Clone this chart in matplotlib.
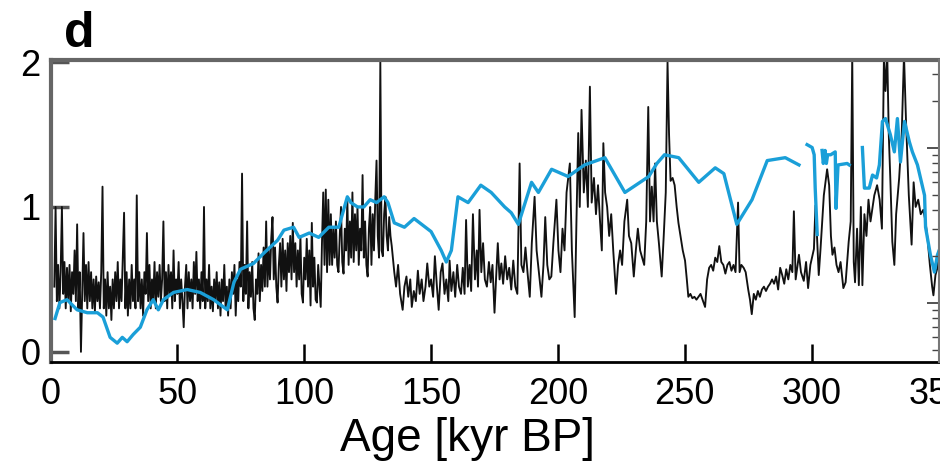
import numpy as np
import matplotlib
matplotlib.use("Agg")
import matplotlib.pyplot as plt

plt.rcParams['font.family'] = ['Liberation Sans', 'DejaVu Sans']

# black record, dense part: 0.5 kyr steps from 1.5 to 134.5 kyr
black_dense = [
    0.45, 1.0, 0.35, 0.6, 0.3, 0.55, 1.0, 0.4, 0.62, 0.3,          # 1.5 - 6.0
    0.58, 0.35, 0.6, 0.28, 0.55, 0.4, 0.7, 0.35, 0.88, 0.3,         # 6.5 - 11.0
    0.55, 0.0, 0.4, 0.82, 0.35, 0.6, 0.3, 0.62, 0.35, 0.55,         # 11.5 - 16.0
    0.3, 0.5, 0.28, 0.52, 0.35, 0.48, 0.3, 0.55, 1.14, 0.3,         # 16.5 - 21.0
    0.5, 0.25, 0.55, 0.3, 0.45, 0.22, 0.5, 0.3, 0.55, 0.35,         # 21.5 - 26.0
    0.62, 0.3, 0.5, 0.35, 0.65, 0.96, 0.3, 0.55, 0.25, 0.5,         # 26.5 - 31.0
    0.3, 0.6, 0.35, 0.5, 0.3, 1.08, 0.35, 0.55, 0.3, 0.5,           # 31.5 - 36.0
    0.25, 0.55, 0.4, 0.82, 0.35, 0.6, 0.3, 0.5, 0.35, 0.62,         # 36.5 - 41.0
    0.3, 0.55, 0.38, 0.6, 0.35, 0.5, 0.9, 0.35, 0.55, 0.3,          # 41.5 - 46.0
    0.6, 0.4, 0.55, 0.3, 0.7, 0.35, 0.5, 0.4, 0.62, 0.3,            # 46.5 - 51.0
    0.5, 0.35, 0.17, 0.45, 0.6, 0.3, 0.55, 0.35, 0.5, 0.3,          # 51.5 - 56.0
    0.62, 0.4, 0.69, 0.35, 0.5, 0.3, 0.55, 0.35, 1.0, 0.3,          # 56.5 - 61.0
    0.5, 0.35, 0.6, 0.3, 0.45, 0.28, 0.5, 0.35, 0.55, 0.3,          # 61.5 - 66.0
    0.48, 0.25, 0.5, 0.35, 0.6, 0.3, 0.45, 0.25, 0.5, 0.3,          # 66.5 - 71.0
    0.55, 0.4, 0.6, 0.25, 0.5, 0.35, 0.62, 0.45, 1.23, 0.35,        # 71.5 - 76.0
    0.6, 0.4, 0.9, 0.3, 0.55, 0.38, 0.62, 0.3, 0.22, 0.5,           # 76.5 - 81.0
    0.4, 0.68, 0.35, 0.6, 0.42, 0.72, 0.45, 0.9, 0.45, 0.7,         # 81.5 - 86.0
    0.5, 0.78, 0.93, 0.5, 0.72, 0.45, 0.34, 0.6, 0.75, 0.45,        # 86.5 - 91.0
    0.78, 0.5, 0.7, 0.42, 0.75, 0.55, 0.8, 0.5, 0.89, 0.55,         # 91.5 - 96.0
    0.75, 0.45, 0.7, 0.5, 0.8, 0.4, 0.34, 0.65, 0.5, 0.78,          # 96.5 - 101.0
    0.45, 0.7, 0.32, 0.89, 0.45, 0.65, 0.36, 0.34, 0.6, 0.45,       # 101.5 - 106.0
    0.31, 0.75, 1.1, 0.6, 1.12, 0.55, 1.05, 0.6, 0.95, 0.6,         # 106.5 - 111.0
    0.85, 0.65, 0.9, 0.6, 0.55, 0.8, 1.0, 0.62, 0.54, 0.85,         # 111.5 - 116.0
    0.7, 1.05, 0.6, 0.9, 0.65, 1.1, 0.62, 0.95, 0.7, 1.0,           # 116.5 - 121.0
    0.6, 0.85, 0.7, 1.22, 0.65, 0.9, 0.6, 0.52, 0.85, 1.0,          # 121.5 - 126.0
    0.6, 0.95, 0.7, 1.05, 1.32, 0.8, 0.65, 2.0, 0.7, 0.66,          # 126.5 - 131.0
    0.95, 1.07, 0.8, 0.7, 0.93, 0.8, 0.73,                          # 131.5 - 134.5
]
black_dense_start = 1.5

# black record, sparser part (age kyr, value)
black_age_late = [
    135.5, 136.2, 137.0, 137.8, 138.8, 139.5, 140.3, 141.0, 141.8, 142.4,
    143.2, 144.0, 144.8, 145.5, 146.3, 147.0, 147.8, 148.5, 149.3, 150.0,
    150.8, 151.5, 152.3, 153.0, 153.8, 154.5, 155.3, 156.0, 156.8, 157.3,
    158.0, 158.8, 159.5, 160.3, 161.0, 161.8, 162.5, 163.2, 163.8, 164.5,
    165.2, 165.8, 166.5, 167.3, 168.0, 168.5, 169.1, 169.8, 170.5, 171.2,
    172.0, 172.8, 173.5, 174.2, 175.0, 175.6, 176.3, 177.0, 177.7, 178.4,
    179.2, 180.0, 180.8, 181.6, 182.4, 183.2, 184.0, 184.9, 185.6, 186.4,
    187.2, 188.0, 188.9, 189.7, 190.8, 191.6, 192.5, 193.5, 194.3, 195.0,
    195.8, 196.6, 197.4, 198.2, 199.4, 200.2, 201.0, 201.8, 202.6, 203.4,
    204.7, 205.5, 206.6, 207.3, 208.0, 208.6, 209.3, 210.2, 211.0, 211.8,
    212.6, 213.3, 214.2, 215.0, 215.8, 216.6, 217.3, 217.9, 218.6, 219.4,
    220.2, 221.0, 221.8, 222.9, 223.7, 224.5, 225.3, 226.2, 227.3, 228.0,
    228.9, 229.9, 230.7, 231.5, 232.4, 233.2, 234.0, 234.8, 235.6, 236.3,
    237.0, 237.7, 238.3, 239.0, 239.8, 240.9, 241.7, 242.5, 243.2, 243.8,
    244.4, 245.2, 246.0, 246.8, 247.5, 248.3, 249.2, 250.1, 250.8, 251.4,
    252.2, 253.0, 253.8, 254.6, 255.4, 256.2, 257.0, 258.0, 258.8, 259.6,
    260.4, 261.2, 262.0, 262.8, 263.6, 264.4, 265.2, 266.0, 266.8, 267.6,
    268.4, 269.2, 270.0, 271.0, 271.6, 272.3, 273.2, 274.0, 275.0, 275.7,
    276.4, 277.2, 278.0, 278.8, 279.6, 280.4, 281.2, 282.0, 282.8, 283.6,
    284.4, 285.2, 286.0, 286.8, 287.6, 288.4, 289.2, 290.0, 290.8, 291.6,
    292.4, 293.0, 293.7, 294.3, 295.0, 295.8, 296.9, 297.8, 298.6, 299.5,
    300.9, 301.5, 302.1, 302.8, 303.5, 304.8, 306.1, 306.9, 307.6, 308.2,
    309.0, 309.8, 310.6, 311.4, 312.5, 313.4, 314.6, 315.4, 316.0, 316.6,
    317.1, 317.9, 318.6, 319.4, 320.0, 320.8, 321.6, 322.4, 323.2, 324.7,
    325.8, 326.8, 327.7, 328.5, 329.1, 329.8, 330.4, 331.0, 331.8, 332.6,
    333.3, 334.5, 335.5, 336.4, 337.2, 338.3, 339.4, 340.2, 341.0, 342.0,
    343.0, 344.0, 344.9, 345.8, 346.6, 347.5, 348.0, 348.8, 349.6, 350.4,
]
black_val_late = [
    0.55, 0.45, 0.6, 0.4, 0.29, 0.45, 0.52, 0.38, 0.5, 0.31,
    0.42, 0.35, 0.56, 0.4, 0.5, 0.35, 0.45, 0.61, 0.45, 0.5,
    0.38, 0.66, 0.45, 0.29, 0.55, 0.61, 0.4, 0.5, 0.35, 0.63,
    0.42, 0.55, 0.38, 0.6, 0.45, 0.4, 0.58, 0.4, 0.91, 0.45,
    0.6, 0.42, 0.95, 0.5, 0.7, 0.45, 0.98, 0.55, 0.75, 0.5,
    0.45, 0.62, 0.48, 0.6, 0.27, 0.5, 0.75, 0.5, 0.61, 0.47,
    0.66, 0.5, 0.58, 0.43, 0.63, 0.45, 0.4, 1.3, 0.6, 0.55,
    0.72, 0.55, 0.38, 0.75, 1.07, 0.7, 0.55, 0.38, 0.6, 0.93,
    0.6, 0.5, 0.52, 0.75, 1.05, 0.7, 0.55, 0.85, 0.7, 1.1,
    1.3, 0.7, 0.24, 0.9, 1.51, 1.0, 1.67, 1.1, 1.32, 1.0,
    1.83, 1.03, 1.2, 0.95, 1.15, 0.9, 0.7, 1.44, 1.1, 1.0,
    0.8, 0.95, 0.7, 0.4, 0.6, 0.7, 0.6, 0.9, 1.05, 0.8,
    0.75, 0.52, 0.7, 0.85, 0.7, 0.65, 0.6, 0.9, 1.69, 0.9,
    1.14, 0.9, 1.3, 0.9, 0.75, 0.52, 0.8, 1.1, 2.0, 1.5,
    1.18, 1.2, 1.15, 1.0, 0.89, 0.8, 0.7, 0.63, 0.5, 0.38,
    0.4, 0.37, 0.38, 0.36, 0.38, 0.4, 0.36, 0.31, 0.5, 0.58,
    0.6, 0.56, 0.65, 0.62, 0.73, 0.62, 0.6, 0.54, 0.6, 0.62,
    0.56, 0.6, 0.55, 1.03, 0.55, 0.6, 0.58, 0.55, 0.43, 0.36,
    0.26, 0.4, 0.36, 0.42, 0.38, 0.43, 0.45, 0.42, 0.45, 0.47,
    0.5, 0.47, 0.52, 0.43, 0.58, 0.53, 0.47, 0.57, 0.5, 0.6,
    0.55, 0.97, 0.5, 0.58, 0.67, 0.55, 0.49, 0.62, 0.44, 0.6,
    0.71, 1.01, 0.8, 0.53, 0.71, 1.08, 1.26, 1.15, 0.8, 0.67,
    0.72, 0.6, 0.55, 0.62, 0.44, 0.48, 0.76, 0.9, 2.05, 0.62,
    0.48, 0.85, 0.46, 1.0, 0.46, 0.95, 0.8, 1.05, 0.9, 1.08,
    1.15, 1.05, 0.85, 2.05, 1.8, 2.05, 1.5, 1.2, 0.76, 0.6,
    0.95, 1.2, 1.5, 2.05, 1.59, 1.08, 0.74, 1.17, 1.0, 1.05,
    0.95, 0.98, 0.9, 0.76, 0.6, 0.45, 0.39, 0.53, 0.58, 0.76,
]

# blue record (NaN = gap)
blue_age = [
    1.8, 3.7, 6.5, 10.5, 14.5, 18.5, 20.7, 23.5, 26.3, 28.3,
    30.2, 32.6, 35.4, 38.0, 40.5, 42.5, 44.5, 48.5, 53.9, 59.0,
    64.3, 69.7, 72.3, 74.9, 80.0, 84.0, 89.5, 92.0, 95.8, 98.0,
    102.0, 105.7, 109.7, 113.6, 117.0, 118.4, 121.0, 123.5, 126.0, 128.5,
    131.5, 133.0, 135.5, 139.5, 143.3, 150.0, 154.0, 156.0, 158.0, 160.6,
    164.6, 169.6, 173.7, 179.0, 181.6, 184.4, 189.6, 192.3, 197.5, 204.0,
    210.5, 218.5, 226.4, 235.8, 239.0, 242.0, 247.6, 255.5, 262.0, 265.4,
    270.5, 276.5, 282.5, 289.6, 295.0, np.nan,
    298.2, 300.2, 301.0, 301.4, 302.2, np.nan,
    304.1, 304.6, 305.3, 305.8, 306.3, 307.5, 309.3, 309.6, 310.4, 314.0,
    314.8, np.nan,
    320.0, 320.8, 322.7, 324.0, 325.6, 326.7, 327.9, 329.1, 331.0, 332.6,
    333.8, 335.0, 336.6, 338.5, 339.7, 341.7, 344.5, 344.9, 346.8, 348.4,
    349.6, 351.6,
]
blue_val = [
    0.23, 0.34, 0.36, 0.29, 0.27, 0.27, 0.24, 0.1, 0.06, 0.1,
    0.07, 0.12, 0.17, 0.29, 0.36, 0.29, 0.36, 0.41, 0.43, 0.41,
    0.36, 0.29, 0.48, 0.57, 0.61, 0.68, 0.77, 0.84, 0.86, 0.79,
    0.82, 0.79, 0.86, 0.86, 1.07, 1.03, 1.0, 1.0, 1.05, 1.03,
    1.07, 1.03, 0.89, 0.86, 0.92, 0.83, 0.7, 0.62, 0.7, 1.07,
    1.03, 1.15, 1.1, 1.0, 0.96, 0.88, 1.17, 1.1, 1.26, 1.21,
    1.29, 1.34, 1.1, 1.21, 1.3, 1.36, 1.34, 1.17, 1.27, 1.23,
    0.88, 1.05, 1.32, 1.34, 1.29, np.nan,
    1.43, 1.41, 1.36, 1.13, 0.81, np.nan,
    1.39, 1.3, 1.39, 1.3, 1.36, 1.36, 1.38, 0.99, 1.29, 1.30,
    1.29, np.nan,
    1.41, 1.13, 1.13, 1.22, 1.2, 1.29, 1.59, 1.61, 1.5, 1.38,
    1.61, 1.31, 1.59, 1.45, 1.38, 1.29, 1.08, 0.86, 0.67, 0.55,
    0.67, 0.76,
]

x_ticks = [0, 50, 100, 150, 200, 250, 300, 350]
y_ticks = [0, 1, 2]

black_age = np.concatenate([black_dense_start + 0.5 * np.arange(len(black_dense)),
                            black_age_late])
black_val = np.concatenate([black_dense, black_val_late])

fig = plt.figure(figsize=(9.4, 4.62), dpi=100)
ax = fig.add_axes([50.5 / 940, 1 - 362 / 462, 888 / 940, 302 / 462])

ax.plot(black_age, black_val, color='#111111', lw=1.35, zorder=2)
ax.plot(blue_age, blue_val, color='#1a9fd8', lw=2.4, zorder=3)

ax.set_xlim(0, 350)
ax.set_ylim(-0.07, 2.014)
ax.set_xticks(x_ticks)
ax.set_yticks(y_ticks)
ax.tick_params(axis='y', direction='in', length=13, width=2.5, color='#555555',
               labelsize=26, pad=7)
ax.tick_params(axis='x', direction='in', length=13, width=1.8, color='black',
               labelsize=26, pad=11)
for side in ['left', 'top']:
    ax.spines[side].set_color('#666666')
    ax.spines[side].set_linewidth(3)
ax.spines['bottom'].set_linewidth(2)
ax.spines['right'].set_visible(False)

# log-scaled right axis (ticks only, labels cropped out)
ax2 = ax.twinx()
ax2.set_yscale('log')
ax2.set_ylim(0.416, 37)
ax2.tick_params(axis='y', which='major', direction='in', length=9, width=1.3,
                color='#444444', labelright=False)
ax2.tick_params(axis='y', which='minor', direction='in', length=5, width=1.0,
                color='#444444')
for side in ['left', 'top', 'bottom']:
    ax2.spines[side].set_visible(False)
ax2.spines['right'].set_color('#777777')
ax2.spines['right'].set_linewidth(1.5)

fig.text(64 / 940, 1 - 47 / 462, 'd', fontsize=36, fontweight='bold', va='baseline')
fig.text(467 / 940, 1 - 451 / 462, 'Age [kyr BP]', fontsize=33, ha='center', va='baseline')

fig.savefig('out.png', dpi=100)
